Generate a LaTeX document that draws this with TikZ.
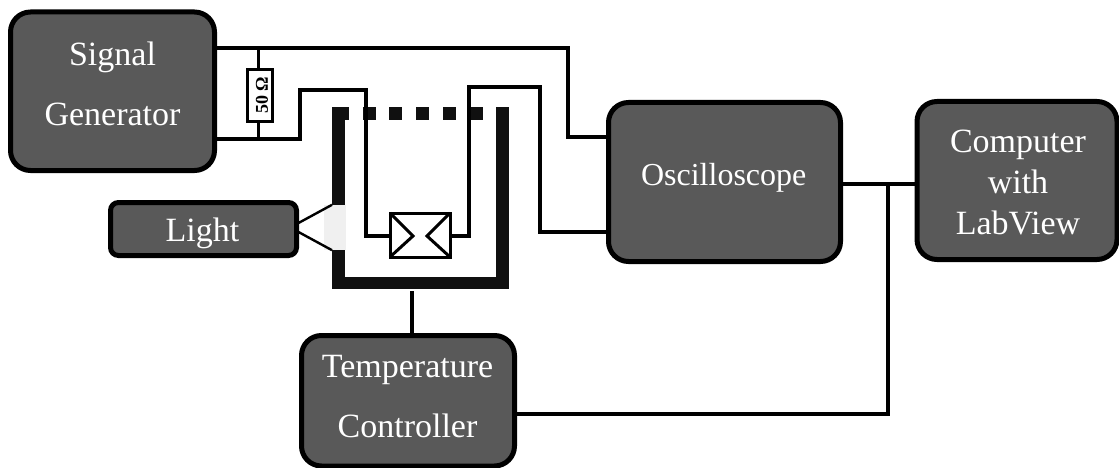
\documentclass[tikz,border=0pt]{standalone}
\usepackage{fontspec}
\setmainfont{Liberation Serif}
\begin{document}
\begin{tikzpicture}[x=1pt,y=-1pt,
  blockbox/.style={draw=black,line width=5pt,fill=boxgray,rounded corners=20pt,inner sep=0pt,outer sep=0pt},
  blocktext/.style={text=white,align=center,inner sep=0pt,outer sep=0pt},
  wire/.style={draw=black,line width=3.4pt,line join=miter},
  thin wire/.style={draw=black,line width=2.4pt},
  bath/.style={fill=bathblack,draw=none,inner sep=0pt,outer sep=0pt}]
\definecolor{boxgray}{HTML}{595959}
\definecolor{bathblack}{HTML}{101010}
\useasboundingbox (0,0) rectangle (1119,468);
% blocks
\node[blockbox,minimum width=204pt,minimum height=158.5pt] (sg) at (112.5,91.25) {};
\node[blocktext,font=\fontsize{34}{60}\selectfont] (sgt) at (112.5,83.5) {Signal\\Generator};
\node[blockbox,minimum width=186pt,minimum height=53pt,rounded corners=8pt] (light) at (203.5,229) {};
\node[blocktext,font=\fontsize{34}{40}\selectfont] (lightt) at (202.5,233.5) {Light};
\node[blockbox,minimum width=232pt,minimum height=159pt] (osc) at (724.5,182) {};
\node[blocktext,font=\fontsize{32}{38}\selectfont] (osct) at (723.7,177.5) {Oscilloscope};
\node[blockbox,minimum width=200pt,minimum height=158pt] (pc) at (1017,180.5) {};
\node[blocktext,font=\fontsize{34}{41}\selectfont] (pct) at (1018,183) {Computer\\with\\LabView};
\node[blockbox,minimum width=213pt,minimum height=130.5pt] (tc) at (408,400.75) {};
\node[blocktext,font=\fontsize{34}{60}\selectfont] (tct) at (407.5,397) {Temperature\\Controller};
% bath
\node[bath,minimum width=17pt,minimum height=13pt] (bt0) at (340.5,113.5) {};
\node[bath,minimum width=13pt,minimum height=98pt] (bl1) at (338.5,156) {};
\node[bath,minimum width=13pt,minimum height=39pt] (bl2) at (338.5,269.5) {};
\node[bath,minimum width=177pt,minimum height=12pt] (bb) at (420.5,283) {};
\node[bath,minimum width=13pt,minimum height=182pt] (br) at (502.5,198) {};
\foreach \n/\xx in {a/369.5,b/395.5,c/422.5,d/449.5,e/476}
  \node[bath,minimum width=13.5pt,minimum height=13pt] (sq\n) at (\xx,113.5) {};
\node[fill=black!6,draw=none,inner sep=0pt,minimum width=22pt,minimum height=45pt] (win) at (335,227.5) {};
% resistor
\node[draw=black,line width=3pt,fill=white,inner sep=0pt,outer sep=0pt,minimum width=25pt,minimum height=52pt] (res) at (260,95.5) {};
\node[rotate=90,font=\fontsize{18}{18}\selectfont\bfseries,inner sep=0pt] (reslabel) at (262,95.5) {50 Ω};
% sensor
\node[draw=black,line width=3pt,fill=white,inner sep=0pt,outer sep=0pt,minimum width=60pt,minimum height=44pt] (dut) at (420,235) {};
\coordinate (cl) at (413,236);
\coordinate (cr) at (427,236);
\draw[thin wire,line width=3pt] (dut.north west) -- (cl) -- (dut.south west);
\draw[thin wire,line width=3pt] (dut.north east) -- (cr) -- (dut.south east);
% named routing points
\coordinate (t1) at (568,48);
\coordinate (t2) at (568,137);
\coordinate (l1) at (300,139);
\coordinate (l2) at (300,90);
\coordinate (l3) at (366,90);
\coordinate (l4) at (366,236);
\coordinate (r1) at (469,236);
\coordinate (r2) at (469,87);
\coordinate (r3) at (540,87);
\coordinate (r4) at (540,232);
\coordinate (j1) at (888,184);
\coordinate (j2) at (888,414);
\coordinate (ra) at (258.7,48);
\coordinate (rb) at (258.7,139);
\coordinate (s1) at (412,291);
% wires
\draw[wire] (sg.east |- t1) -- (t1) -- (t2) -- (osc.west |- t2);
\draw[wire] (sg.east |- l1) -- (l1) -- (l2) -- (l3) -- (l4) -- (dut.west |- l4);
\draw[wire] (dut.east |- r1) -- (r1) -- (r2) -- (r3) -- (r4) -- (osc.west |- r4);
\draw[wire] (ra) -- (ra |- res.north);
\draw[wire] (rb |- res.south) -- (rb);
\draw[wire] (osc.east |- j1) -- (pc.west |- j1);
\draw[wire] (tc.east |- j2) -- (j2) -- (j1);
\draw[wire] (s1) -- (s1 |- tc.north);
\draw[thin wire] (298.5,223) -- (win.north east -| bl1.west);
\draw[thin wire] (298.5,232) -- (win.south east -| bl2.west);
\end{tikzpicture}
\end{document}
